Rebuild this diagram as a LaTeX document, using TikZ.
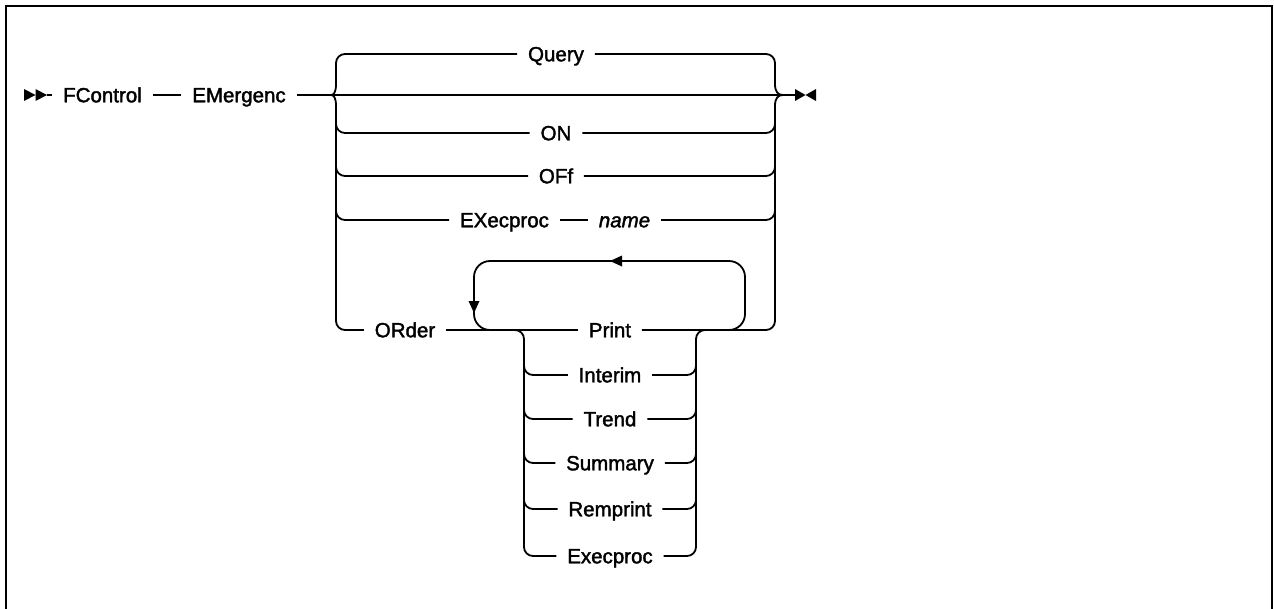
\documentclass[tikz,border=0pt]{standalone}
\usepackage{fontspec}
\setmainfont{Liberation Sans}[FakeBold=1.8]
\begin{document}
\begin{tikzpicture}[x=1pt,y=-1pt,line width=1.8pt,
  lbl/.style={inner xsep=10pt,inner ysep=0pt,text height=14.5pt,text depth=0pt,font=\fontsize{20.5}{24}\selectfont},
  rr/.style={rounded corners=9pt},
  loopr/.style={rounded corners=16pt}]
\useasboundingbox (0,0) rectangle (1274,608);
% frame (open at the bottom)
\draw[line width=2.5pt] (6,610) -- (6,6) -- (1272,6) -- (1272,610);

% start and end symbols
\coordinate (st) at (47,95);
\coordinate (en) at (795,95);
\fill (24,89) -- (35.5,95) -- (24,101) -- cycle;
\fill (35.5,89) -- (47,95) -- (35.5,101) -- cycle;
\fill (795,89) -- (805.5,95) -- (795,101) -- cycle;
\fill (816,89) -- (805.5,95) -- (816,101) -- cycle;

% main line
\node[lbl] (fc) at (102.5,95) {FControl};
\node[lbl] (em) at (239,95) {EMergenc};
\draw (st) -- (fc);
\draw (fc) -- (em);
\draw (em) -- (en);

% first choice
\node[lbl] (q)  at (556,54)  {Query};
\node[lbl] (on) at (556,133) {ON};
\node[lbl] (of) at (556,176) {OFf};
\node[lbl] (ex) at (504.5,220) {EXecproc};
\node[lbl] (nm) at (624.5,220) {\itshape name};
\node[lbl] (ord) at (405,330) {ORder};
\node[lbl] (pr) at (610,330) {Print};

% left brace
\coordinate (bl) at (331,95);
\draw[rr] (q.west) -| (336,84);
\draw (336,84) .. controls (336,92) and (334,95) .. (bl);
\draw (bl) .. controls (334,95) and (336,98) .. (336,106);
\draw[rr] (336,106) |- (ord.west);
\draw[rr] (336,118) |- (on.west);
\draw[rr] (336,161) |- (of.west);
\draw[rr] (336,205) |- (ex.west);

% right brace
\coordinate (br) at (783,95);
\draw[rr] (q.east) -| (775,84);
\draw (775,84) .. controls (775,92) and (778,95) .. (br);
\draw (br) .. controls (778,95) and (775,98) .. (775,106);
\draw[rr] (775,106) |- (pr.east);
\draw[rr] (on.east) -| (775,118);
\draw[rr] (of.east) -| (775,161);
\draw (ex) -- (nm);
\draw[rr] (nm.east) -| (775,205);

% ORder line
\draw (ord) -- (pr);

% repeat loop
\draw[loopr] (720,330) -| (745,261) -| (474,330) -- (500,330);
\fill (610,261) -- (622,255.5) -- (622,266.5) -- cycle;
\fill (474,313) -- (468.5,301) -- (479.5,301) -- cycle;

% inner choice
\node[lbl] (it) at (610,375) {Interim};
\node[lbl] (tr) at (610,419) {Trend};
\node[lbl] (su) at (610,463) {Summary};
\node[lbl] (re) at (610,509) {Remprint};
\node[lbl] (xp) at (610,556) {Execproc};
\draw[rr] (514,330) -| (524,556) -- (xp.west);
\draw[rr] (xp.east) -| (696,330) -- (706,330);
\draw[rr] (524,360) |- (it.west);
\draw[rr] (524,404) |- (tr.west);
\draw[rr] (524,448) |- (su.west);
\draw[rr] (524,494) |- (re.west);
\draw[rr] (it.east) -| (696,360);
\draw[rr] (tr.east) -| (696,404);
\draw[rr] (su.east) -| (696,448);
\draw[rr] (re.east) -| (696,494);
\end{tikzpicture}
\end{document}
